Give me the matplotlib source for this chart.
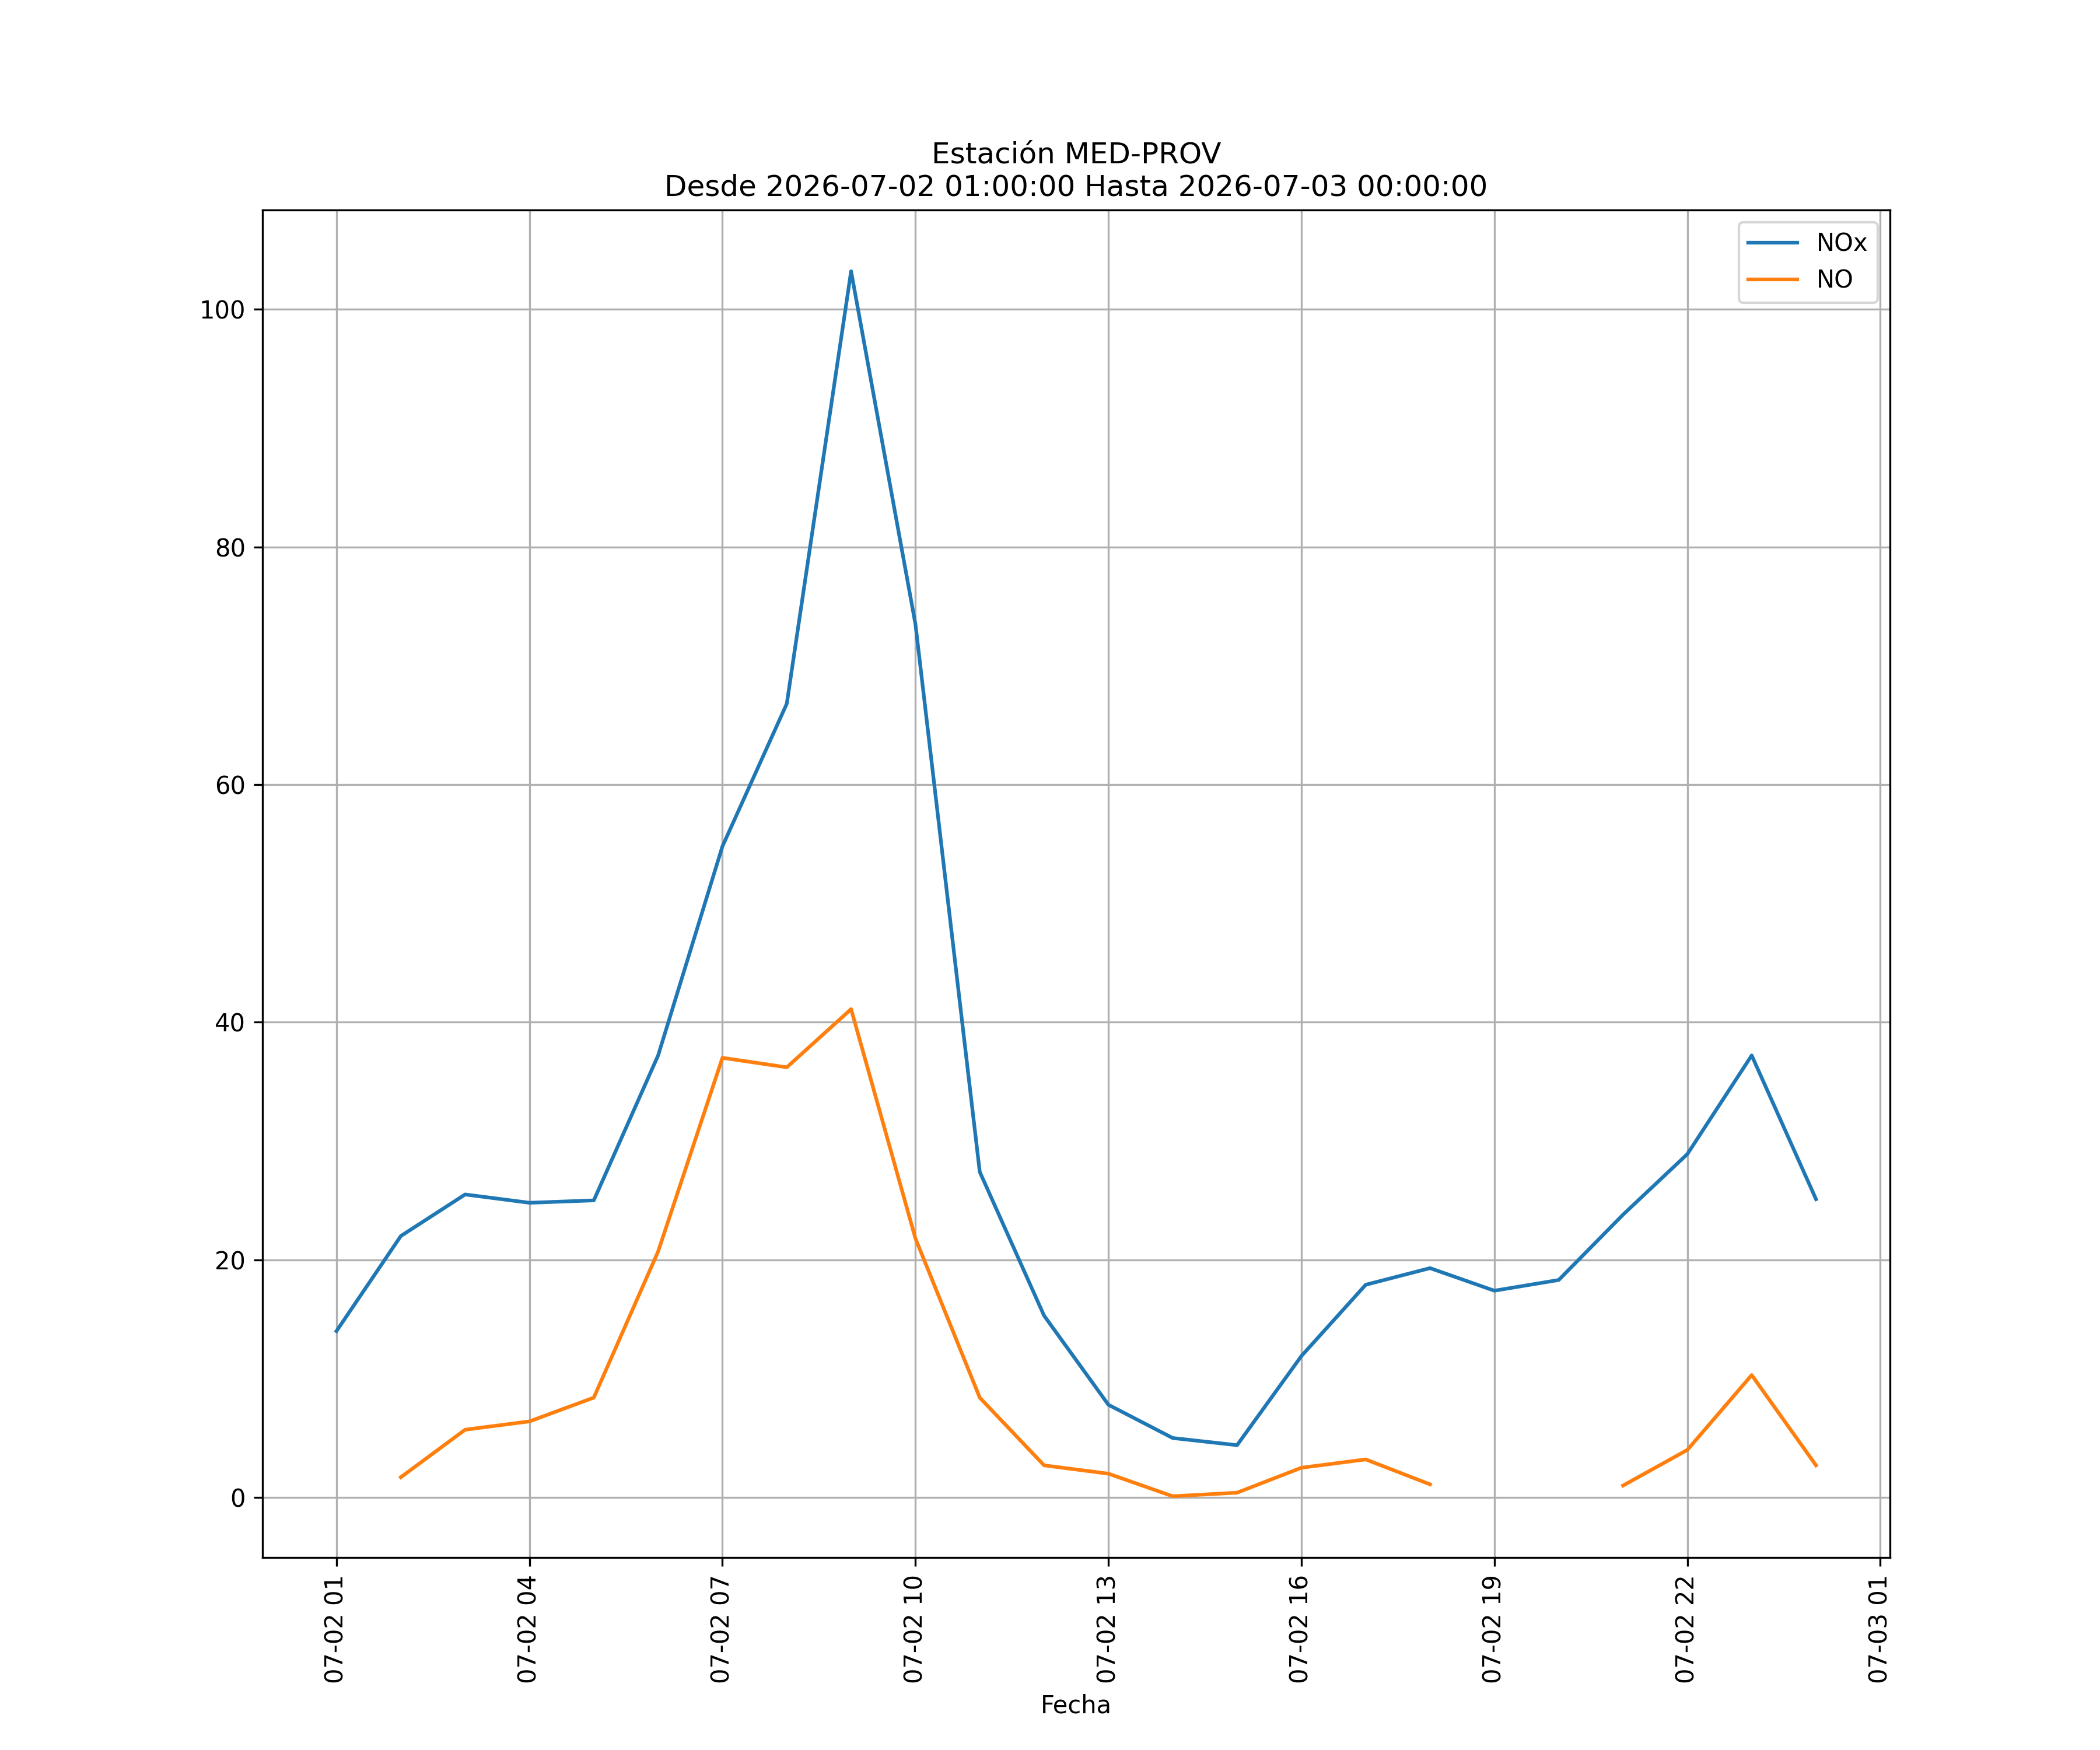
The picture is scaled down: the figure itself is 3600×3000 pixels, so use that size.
import numpy as np
import pandas as pd
import matplotlib
matplotlib.use("Agg")
import matplotlib.pyplot as plt
import matplotlib.dates as mdates

# Horas de la estación (07-02 01:00 a 07-03 00:00)
fechas = pd.date_range("2026-07-02 01:00", "2026-07-03 00:00", freq="h")

nox = [14.0, 22.0, 25.5, 24.8, 25.0, 37.2, 54.8, 66.8, 103.2, 73.5, 27.4, 15.3,
       7.8, 5.0, 4.4, 11.9, 17.9, 19.3, 17.4, 18.3, 23.8, 28.9, 37.2, 25.1]
no = [np.nan, 1.7, 5.7, 6.4, 8.4, 20.7, 37.0, 36.2, 41.1, 21.8, 8.4, 2.7,
      2.0, 0.1, 0.4, 2.5, 3.2, 1.1, np.nan, np.nan, 1.0, 4.0, 10.3, 2.7]

estacion = "MED-PROV"
desde = "2026-07-02 01:00:00"
hasta = "2026-07-03 00:00:00"

fig = plt.figure(figsize=(12, 10), dpi=300)
ax = fig.gca()
ax.plot(fechas, nox, label="NOx")
ax.plot(fechas, no, label="NO")

ticks = pd.date_range("2026-07-02 01:00", "2026-07-03 01:00", freq="3h")
ax.set_xticks(ticks)
ax.xaxis.set_major_formatter(mdates.DateFormatter("%m-%d %H"))
plt.setp(ax.get_xticklabels(), rotation=90)

ax.set_xlabel("Fecha")
ax.set_title(f"Estación {estacion}\nDesde {desde} Hasta {hasta}")
ax.grid(True)
ax.legend(loc="upper right")

fig.savefig("out.png", dpi=300)
